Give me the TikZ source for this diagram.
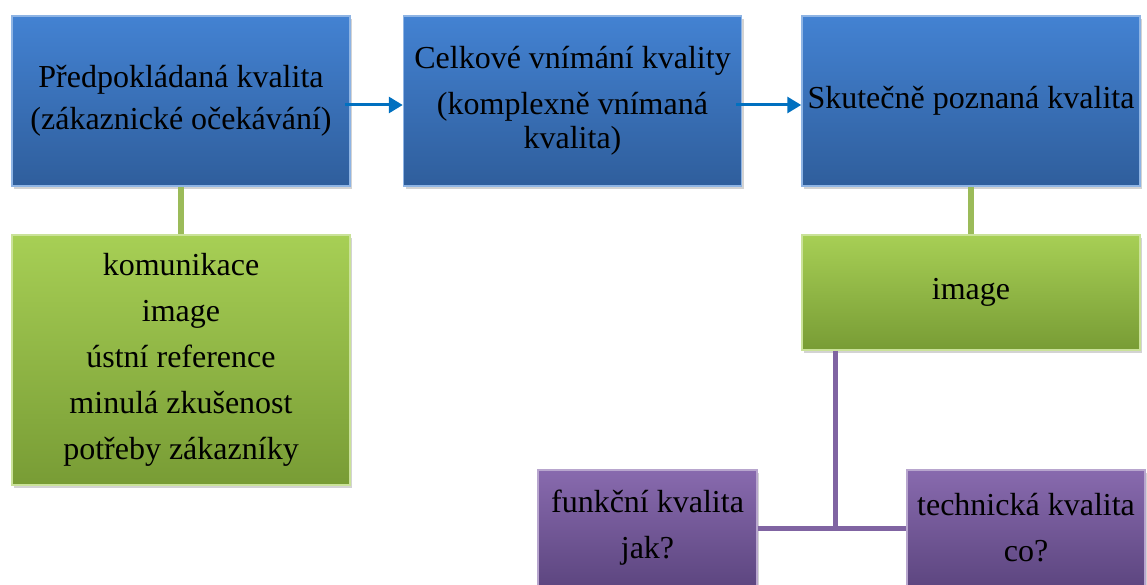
\documentclass[tikz,border=0pt]{standalone}
\usepackage{fontspec}
\setmainfont{Liberation Serif}
\usetikzlibrary{positioning, shadows, arrows.meta}
\definecolor{boxblueT}{HTML}{4382D2}
\definecolor{boxblueB}{HTML}{2F5E9C}
\definecolor{boxgreenT}{HTML}{A7CF55}
\definecolor{boxgreenB}{HTML}{789C35}
\definecolor{boxpurpleT}{HTML}{886AAE}
\definecolor{boxpurpleB}{HTML}{5D4680}
\definecolor{arrowblue}{HTML}{0070C0}
\definecolor{linegreen}{HTML}{9BBB59}
\definecolor{linepurple}{HTML}{8064A2}
\tikzset{
	qbox/.style={rectangle, align=center, inner sep=0pt, text=black,
		font=\fontsize{32}{34}\selectfont,
		drop shadow={opacity=0.35, shadow xshift=2pt, shadow yshift=-3pt}},
	bluebox/.style={qbox, top color=boxblueT, bottom color=boxblueB, draw=boxblueT!60!white, line width=1.5pt,
		minimum width=338pt, minimum height=170pt},
	greenbox/.style={qbox, top color=boxgreenT, bottom color=boxgreenB, draw=boxgreenT!60!white, line width=1.5pt,
		minimum width=338pt},
	purplebox/.style={qbox, top color=boxpurpleT, bottom color=boxpurpleB, draw=boxpurpleT!60!white, line width=1.5pt,
		minimum height=116pt},
	tokarrow/.style={arrowblue, line width=3pt, -{Triangle[length=14pt, width=16pt]}}
}

\begin{document}
\begin{tikzpicture}[x=1pt, y=-1pt]
		\useasboundingbox (0,0) rectangle (1147,585);
		\node[bluebox] (ocek) at (181,101) {Předpokládaná kvalita\\[8pt](zákaznické očekávání)};
		\node[bluebox] (celk) at (572.5,101) {Celkové vnímání kvality\\[12pt](komplexně vnímaná\\kvalita)};
		\node[bluebox] (skut) at (971,101) {Skutečně poznaná kvalita};
		\node[greenbox, minimum height=250pt] (vlivy) at (181,360) {komunikace\\[12pt]image\\[12pt]ústní reference\\[12pt]minulá zkušenost\\[12pt]potřeby zákazníky};
		\node[greenbox, minimum height=115pt] (img) at (971,292.5) {image};
		\node[purplebox, minimum width=219pt] (funk) at (647.5,528) {funkční kvalita\\[12pt]jak?};
		\node[purplebox, minimum width=238pt] (tech) at (1026,528) {technická kvalita\\[12pt]co?};
		\coordinate (uzel) at (835,528);
		\draw[tokarrow] ([xshift=-6pt, yshift=-4pt]ocek.east) -- ([yshift=-4pt]celk.west);
		\draw[tokarrow] ([xshift=-6pt, yshift=-4pt]celk.east) -- ([yshift=-4pt]skut.west);
		\draw[linegreen, line width=6pt] (ocek.south) -- (vlivy.north);
		\draw[linegreen, line width=6pt] (skut.south) -- (img.north);
		\draw[linepurple, line width=5pt] (img.south -| uzel) -- (uzel);
		\draw[linepurple, line width=5pt] (funk.east) -- (tech.west);
	\end{tikzpicture}
\end{document}
